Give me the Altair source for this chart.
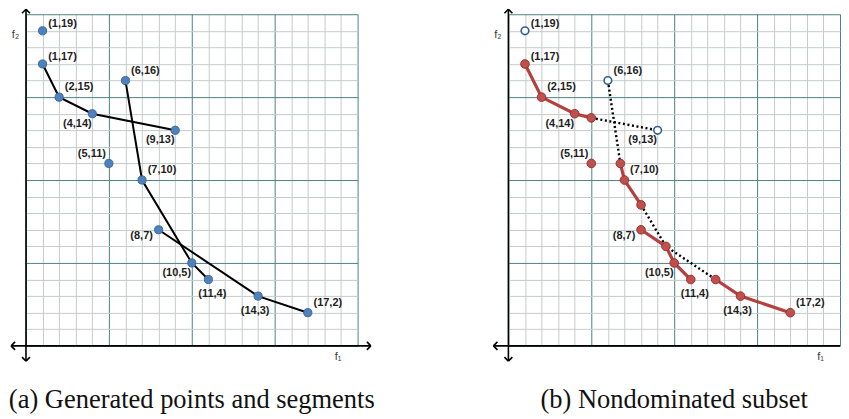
import altair as alt
import pandas as pd

# ---------------- data ----------------
pt_f1 = [1, 1, 2, 4, 9, 5, 6, 7, 8, 10, 11, 14, 17]
pt_f2 = [19, 17, 15, 14, 13, 11, 16, 10, 7, 5, 4, 3, 2]
# where each label sits around its point
pt_place = ["e", "e", "ne", "sw", "sw", "nw", "ne", "ne", "w", "sw", "se", "s", "ne"]

# (a) generated segments
seg_a_f1 = [1, 2, 4, 9]
seg_a_f2 = [17, 15, 14, 13]
seg_b_f1 = [6, 7, 10, 11]
seg_b_f2 = [16, 10, 5, 4]
seg_c_f1 = [8, 14, 17]
seg_c_f2 = [7, 3, 2]

# (b) nondominated pieces (solid) and dominated pieces (dotted)
nd1_f1 = [1, 2, 4, 5]
nd1_f2 = [17, 15, 14, 13.75]
nd2_f1 = [6.75, 7, 8]
nd2_f2 = [11, 10, 8.5]
nd3_f1 = [8, 9.5, 10, 11]
nd3_f2 = [7, 6, 5, 4]
nd4_f1 = [12.5, 14, 17]
nd4_f2 = [4, 3, 2]
dom1_f1 = [5, 9]
dom1_f2 = [13.75, 13]
dom2_f1 = [6, 6.75]
dom2_f2 = [16, 11]
dom3_f1 = [8, 9.5, 12.5]
dom3_f2 = [8.5, 6, 4]
iso_f1 = [5]
iso_f2 = [11]
open_f1 = [1, 6, 9]
open_f2 = [19, 16, 13]

grid_ticks = list(range(0, 21))
f1_extent_a = [-0.9, 20.8]
f1_extent_b = [-0.9, 20.0]
f2_extent = [-0.92, 20.3]

# ---------------- style ----------------
W = H = 332
MAJOR = "#4d8283"
MINOR = "#c5cbcb"
LABEL_FONT = "Liberation Sans"
ARM = 0.24  # arrow-head arm length, in axis units
PLACE = {
    "e": (20, -6.5),
    "ne": (20, -10),
    "sw": (-15, 10),
    "nw": (-17, -9),
    "w": (-17, 6),
    "se": (4, 15),
    "s": (-3, 15),
}

SCALE = alt.Scale(domain=[0, 20], nice=False, zero=False)
grid_color = {"condition": {"test": "datum.value % 5 === 0", "value": MAJOR}, "value": MINOR}

XAXIS = alt.Axis(values=grid_ticks, grid=True, gridColor=grid_color, gridWidth=1, gridOpacity=1,
                 domain=False, ticks=False, labels=False,
                 title="f₁", titleX=312, titleY=11, titleAlign="center", titleBaseline="middle",
                 titleFont=LABEL_FONT, titleFontSize=11, titleFontWeight="normal", titleColor="#3a3a3a")
YAXIS = alt.Axis(values=grid_ticks, grid=True, gridColor=grid_color, gridWidth=1, gridOpacity=1,
                 domain=False, ticks=False, labels=False,
                 title="f₂", titleX=-11, titleY=20, titleAngle=0, titleAlign="center",
                 titleBaseline="middle",
                 titleFont=LABEL_FONT, titleFontSize=11, titleFontWeight="normal", titleColor="#3a3a3a")


def X(field="f1"):
    return alt.X(f"{field}:Q", scale=SCALE, axis=XAXIS)


def Y(field="f2"):
    return alt.Y(f"{field}:Q", scale=SCALE, axis=YAXIS)


def paths(*pairs):
    rows = []
    for sid, (xs, ys) in enumerate(pairs):
        for i, (a, b) in enumerate(zip(xs, ys)):
            rows.append({"seg": sid, "i": i, "f1": a, "f2": b})
    return pd.DataFrame(rows)


labels_df = pd.DataFrame({
    "f1": pt_f1, "f2": pt_f2, "place": pt_place,
    "label": [f"({a},{b})" for a, b in zip(pt_f1, pt_f2)],
})


def frame_layers(f1_ext, right_head=True):
    lines = [
        {"f1": f1_ext[0], "f1b": f1_ext[1], "f2": 0, "f2b": 0},
        {"f1": 0, "f1b": 0, "f2": f2_extent[0], "f2b": f2_extent[1]},
    ]
    # chevron heads: (tip, direction)
    heads = [((f1_ext[0], 0), (-1, 0)), ((0, f2_extent[1]), (0, 1)), ((0, f2_extent[0]), (0, -1))]
    if right_head:
        heads.append(((f1_ext[1], 0), (1, 0)))
    for (tx, ty), (ux, uy) in heads:
        for side in (-1, 1):
            lines.append({"f1": tx, "f2": ty,
                          "f1b": tx - ux * ARM + uy * side * ARM,
                          "f2b": ty - uy * ARM + ux * side * ARM})
    axis_df = pd.DataFrame(lines)
    rules = alt.Chart(axis_df).mark_rule(color="black", strokeWidth=1.6).encode(
        x=X(), x2="f1b:Q", y=Y(), y2="f2b:Q")
    return [rules]


def label_layers():
    out = []
    for code, (dx, dy) in PLACE.items():
        out.append(
            alt.Chart(labels_df).transform_filter(alt.datum.place == code)
            .mark_text(font=LABEL_FONT, fontSize=11, fontWeight="bold", color="#1e1e1e",
                       dx=dx, dy=dy, align="center", baseline="middle")
            .encode(x=X(), y=Y(), text="label:N"))
    return out


def caption(text):
    return alt.TitleParams(text, orient="bottom", anchor="middle", frame="group",
                           font="Liberation Serif", fontSize=26.5, fontWeight="normal",
                           color="#111111", offset=25)


# ---------------- panel (a) ----------------
seg_df = paths((seg_a_f1, seg_a_f2), (seg_b_f1, seg_b_f2), (seg_c_f1, seg_c_f2))
pts_df = pd.DataFrame({"f1": pt_f1, "f2": pt_f2})

segs_a = alt.Chart(seg_df).mark_line(color="black", strokeWidth=2).encode(
    x=X(), y=Y(), detail="seg:N", order="i:Q")
dots_a = alt.Chart(pts_df).mark_circle(size=66, color="#4f81bd", stroke="#3b6699",
                                       strokeWidth=1, opacity=1).encode(x=X(), y=Y())

panel_a = alt.layer(*frame_layers(f1_extent_a), segs_a, dots_a, *label_layers()).properties(
    width=W, height=H, title=caption("(a) Generated points and segments"))

# ---------------- panel (b) ----------------
nd_df = paths((nd1_f1, nd1_f2), (nd2_f1, nd2_f2), (nd3_f1, nd3_f2), (nd4_f1, nd4_f2))
dom_df = paths((dom1_f1, dom1_f2), (dom2_f1, dom2_f2), (dom3_f1, dom3_f2))
red_df = pd.concat([nd_df[["f1", "f2"]], pd.DataFrame({"f1": iso_f1, "f2": iso_f2})])
open_df = pd.DataFrame({"f1": open_f1, "f2": open_f2})

nd_lines = alt.Chart(nd_df).mark_line(color="#b5403d", strokeWidth=3.2).encode(
    x=X(), y=Y(), detail="seg:N", order="i:Q")
dom_lines = alt.Chart(dom_df).mark_line(color="black", strokeWidth=2.4, strokeDash=[2, 2.6]).encode(
    x=X(), y=Y(), detail="seg:N", order="i:Q")
red_dots = alt.Chart(red_df).mark_circle(size=74, color="#c0504d", stroke="#98322f",
                                         strokeWidth=1, opacity=1).encode(x=X(), y=Y())
open_dots = alt.Chart(open_df).mark_point(size=58, shape="circle", filled=True, fill="white",
                                          stroke="#2f5f98", strokeWidth=1.6, opacity=1).encode(
    x=X(), y=Y())

panel_b = alt.layer(*frame_layers(f1_extent_b, right_head=False), dom_lines, nd_lines,
                    red_dots, open_dots, *label_layers()).properties(
    width=W, height=H, title=caption("(b) Nondominated subset"))

chart = alt.hconcat(panel_a, panel_b, spacing=151, bounds="flush").properties(
    padding={"left": 0, "top": 0, "right": 0, "bottom": 0},
    background="white",
).configure_view(strokeWidth=0)

chart.save("out.html", embed_options={"renderer": "svg", "actions": False})
